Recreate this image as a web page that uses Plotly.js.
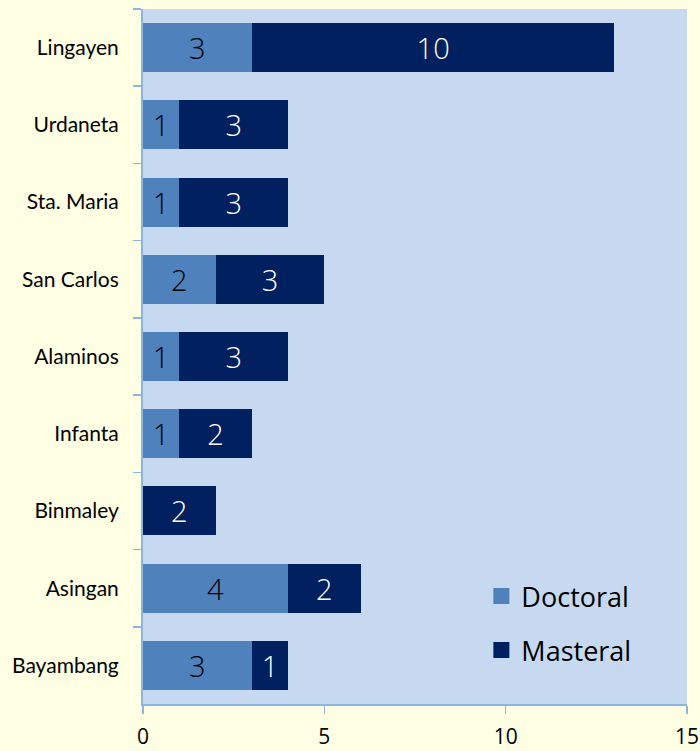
<!DOCTYPE html>
<html><head><meta charset="utf-8">
<script src="https://cdn.plot.ly/plotly-3.0.1.min.js"></script>
<style>html,body{margin:0;padding:0;background:#FFFFE3;}</style>
</head><body>
<div id="chart" style="width:700px;height:751px;"></div>
<script>
const categories = ["Lingayen","Urdaneta","Sta. Maria","San Carlos","Alaminos","Infanta","Binmaley","Asingan","Bayambang"];
const doctoral = [3,1,1,2,1,1,0,4,3];
const masteral = [10,3,3,3,3,2,2,2,1];
const xTicks = [0,5,10,15];
const seriesNames = ["Doctoral","Masteral"];
const seriesColors = ["#4F81BD","#002060"];
const textColors = ["#000000","#FFFFFF"];

const lbl = v => v.map(x => x === 0 ? "" : String(x));
const values = [doctoral, masteral];

const traces = [];
values.forEach((v, i) => {
  traces.push({type:"bar", orientation:"h", name:seriesNames[i], y:categories, x:v,
    marker:{color:seriesColors[i]}, text:lbl(v), textposition:"inside",
    insidetextanchor:"middle", constraintext:"none", showlegend:false,
    textfont:{family:"Open Sans", size:29, weight:300, color:textColors[i]}, hoverinfo:"x+y"});
});
// legend entries with larger square markers
values.forEach((v, i) => {
  traces.push({type:"scatter", mode:"markers", name:seriesNames[i], x:[null], y:[null],
    legendgroup:"g"+i, marker:{symbol:"square", size:18, color:seriesColors[i]},
    showlegend:true, hoverinfo:"skip"});
});

const layout = {
  width:700, height:751,
  margin:{l:143, r:13, t:9, b:47, pad:0},
  paper_bgcolor:"#FFFFE3", plot_bgcolor:"#C6D9F1",
  barmode:"stack", bargap:0.365,
  showlegend:true,
  legend:{x:0.622, y:0.19, xanchor:"left", yanchor:"top", bgcolor:"rgba(0,0,0,0)",
          font:{family:"Open Sans", size:27, color:"#000"}, traceorder:"grouped",
          itemsizing:"trace", tracegroupgap:16, itemwidth:30},
  xaxis:{range:[0,15], tickvals:xTicks, ticktext:xTicks.map(String), showgrid:false, zeroline:false,
         showline:true, linecolor:"#8EB4E3", linewidth:2, ticks:"outside", ticklen:8, tickcolor:"#8EB4E3",
         tickwidth:1.5, ticklabelstandoff:5,
         tickfont:{family:"Open Sans", size:21, color:"#000"}, fixedrange:true},
  yaxis:{type:"category", categoryorder:"array", categoryarray:categories, autorange:"reversed",
         showgrid:false, zeroline:false, showline:true, linecolor:"#8EB4E3", linewidth:2,
         ticks:"outside", ticklen:8, tickcolor:"#8EB4E3", tickwidth:1.5, tickson:"boundaries",
         ticklabelstandoff:18,
         tickfont:{family:"Lato", size:21, color:"#000"}, fixedrange:true}
};

Plotly.newPlot("chart", traces, layout, {displayModeBar:false, staticPlot:true});
</script>
</body></html>
